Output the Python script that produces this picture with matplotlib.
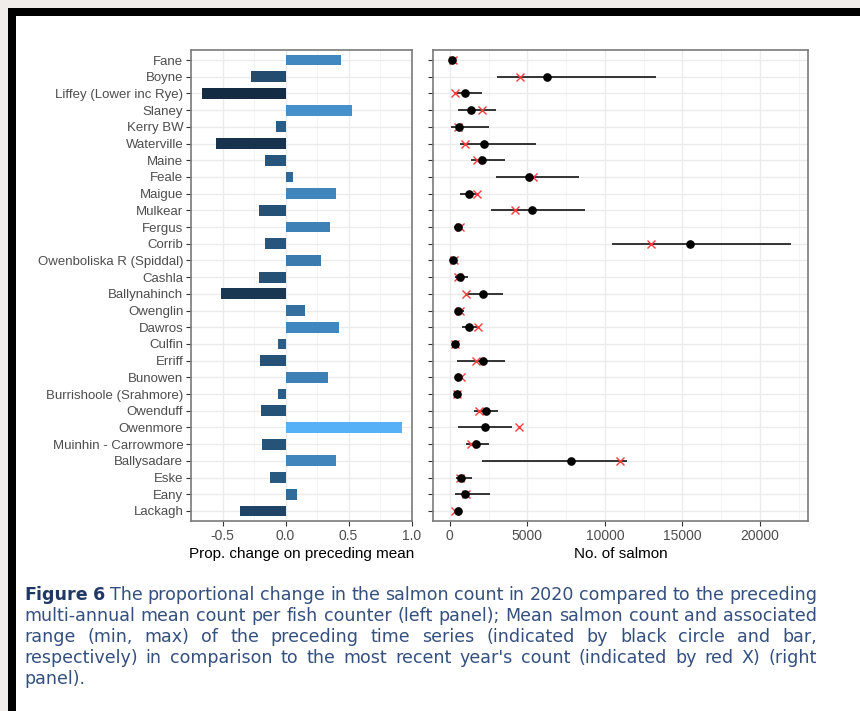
#!/usr/bin/env python3
"""
Salmon counter summary, 2020 vs preceding years
Left: proportional change on preceding mean, right: mean/range vs latest count
"""

import matplotlib
matplotlib.use('Agg')
import matplotlib.pyplot as plt
import matplotlib.patches as patches
from matplotlib.colors import LinearSegmentedColormap, Normalize

W, H = 860, 711

# Fish counters, top to bottom
rivers = [
    'Fane', 'Boyne', 'Liffey (Lower inc Rye)', 'Slaney', 'Kerry BW', 'Waterville',
    'Maine', 'Feale', 'Maigue', 'Mulkear', 'Fergus', 'Corrib',
    'Owenboliska R (Spiddal)', 'Cashla', 'Ballynahinch', 'Owenglin', 'Dawros',
    'Culfin', 'Erriff', 'Bunowen', 'Burrishoole (Srahmore)', 'Owenduff',
    'Owenmore', 'Muinhin - Carrowmore', 'Ballysadare', 'Eske', 'Eany', 'Lackagh',
]

# Proportional change on preceding mean (left panel)
prop_change = [
    0.44, -0.276, -0.66, 0.529, -0.079, -0.555,
    -0.163, 0.058, 0.40, -0.21, 0.35, -0.163,
    0.282, -0.213, -0.515, 0.155, 0.424,
    -0.063, -0.202, 0.337, -0.06, -0.192,
    0.924, -0.184, 0.40, -0.121, 0.092, -0.363,
]

# Preceding series: mean, min, max (right panel)
mean_count = [
    150, 6300, 1010, 1355, 600, 2215,
    2065, 5100, 1250, 5290, 510, 15500,
    215, 690, 2130, 560, 1270,
    365, 2130, 560, 495, 2365,
    2300, 1720, 7805, 730, 990, 515,
]
min_count = [
    20, 3050, 250, 560, 110, 645,
    1400, 3010, 670, 2670, 300, 10430,
    120, 320, 1050, 390, 820,
    250, 470, 400, 380, 1550,
    540, 1030, 2090, 430, 345, 300,
]
max_count = [
    260, 13330, 2100, 3010, 2540, 5550,
    3570, 8340, 1900, 8750, 800, 22000,
    330, 1200, 3440, 900, 1850,
    480, 3590, 800, 620, 3080,
    4020, 2560, 11400, 1440, 2580, 720,
]
# Most recent year (2020)
recent_count = [
    215, 4560, 340, 2075, 555, 985,
    1730, 5400, 1750, 4180, 690, 12950,
    275, 545, 1030, 645, 1810,
    340, 1700, 750, 465, 1910,
    4450, 1400, 10950, 640, 1080, 330,
]

left_ticks = [-0.5, 0.0, 0.5, 1.0]
left_minor = [-0.75, -0.25, 0.25, 0.75]
right_ticks = [0, 5000, 10000, 15000, 20000]
right_minor = [2500, 7500, 12500, 17500, 22500]

caption_lines = [
    [('Figure', True), ('6', True)] + [(w, False) for w in
        'The proportional change in the salmon count in 2020 compared to the preceding'.split()],
    [(w, False) for w in
        'multi-annual mean count per fish counter (left panel); Mean salmon count and associated'.split()],
    [(w, False) for w in
        'range (min, max) of the preceding time series (indicated by black circle and bar,'.split()],
    [(w, False) for w in
        "respectively) in comparison to the most recent year's count (indicated by red X) (right".split()],
    [(w, False) for w in 'panel).'.split()],
]

GRID = '#EBEBEB'
BORDER = '#7a7a7a'
TICK_TXT = '#4D4D4D'
CAP_BODY = '#34507f'
CAP_BOLD = '#1F3864'


def px_box(x0, y0, x1, y1):
    """pixel box (top-left origin) -> figure fraction [l, b, w, h]"""
    return [x0 / W, 1 - y1 / H, (x1 - x0) / W, (y1 - y0) / H]


def expand(lo, hi, mult=0.05):
    d = (hi - lo) * mult
    return lo - d, hi + d


def style_axes(ax):
    ax.set_facecolor('white')
    for s in ax.spines.values():
        s.set_color(BORDER)
        s.set_linewidth(1.2)
    ax.set_axisbelow(True)
    ax.grid(which='major', color=GRID, linewidth=1.0)
    ax.grid(which='minor', axis='x', color='#F2F2F2', linewidth=0.6)
    ax.tick_params(which='major', length=3.5, width=0.8, color='#333333',
                   labelcolor=TICK_TXT, pad=2)
    ax.tick_params(which='minor', length=0)


fig = plt.figure(figsize=(W / 100, H / 100), dpi=100, facecolor='#f1edeb')

# page frame: black border on top/left, white page
fig.patches.append(patches.Rectangle((8 / W, 0), 1, 1 - 8 / H, transform=fig.transFigure,
                                     facecolor='black', edgecolor='none', zorder=-10))
fig.patches.append(patches.Rectangle((16 / W, 0), 1, 1 - 16 / H, transform=fig.transFigure,
                                     facecolor='white', edgecolor='none', zorder=-9))

n = len(rivers)
ypos = [n - i for i in range(n)]

# ---- left panel ----
ax1 = fig.add_axes(px_box(191, 50, 412, 521))
style_axes(ax1)
cmap = LinearSegmentedColormap.from_list('gg', ['#132B43', '#56B1F7'])
norm = Normalize(min(prop_change), max(prop_change))
ax1.barh(ypos, prop_change, height=0.65, color=[cmap(norm(v)) for v in prop_change],
         edgecolor='none', zorder=2)
ax1.set_xlim(*expand(min(prop_change + [0]), max(prop_change + [0])))
ax1.set_ylim(0.4, n + 0.6)
ax1.set_xticks(left_ticks)
ax1.set_xticks(left_minor, minor=True)
ax1.set_xticklabels(['-0.5', '0.0', '0.5', '1.0'], fontsize=10, family='Liberation Sans')
ax1.set_yticks(ypos)
ax1.set_yticklabels(rivers, fontsize=9.5, family='Liberation Sans')
ax1.set_xlabel('Prop. change on preceding mean', fontsize=11, family='Liberation Sans',
               color='black', labelpad=3)

# ---- right panel ----
ax2 = fig.add_axes(px_box(433, 50, 808, 521))
style_axes(ax2)
ax2.hlines(ypos, min_count, max_count, color='black', linewidth=1.1, zorder=3)
ax2.plot(recent_count, ypos, linestyle='none', marker='x', color='#ff3b3b',
         markersize=5.5, markeredgewidth=1.0, zorder=4)
ax2.plot(mean_count, ypos, linestyle='none', marker='o', color='black',
         markersize=5.2, zorder=5)
all_vals = min_count + max_count + mean_count + recent_count
ax2.set_xlim(*expand(min(all_vals), max(all_vals)))
ax2.set_ylim(0.4, n + 0.6)
ax2.set_xticks(right_ticks)
ax2.set_xticks(right_minor, minor=True)
ax2.set_xticklabels([str(t) for t in right_ticks], fontsize=10, family='Liberation Sans')
ax2.set_yticks(ypos)
ax2.set_yticklabels([])
ax2.set_xlabel('No. of salmon', fontsize=11, family='Liberation Sans',
               color='black', labelpad=3)

# ---- justified caption ----
renderer = fig.canvas.get_renderer()
cap_left, cap_right = 24, 817
baselines = [600, 621, 642, 663, 684]
for line_no, (words, base) in enumerate(zip(caption_lines, baselines)):
    texts = []
    for word, bold in words:
        t = fig.text(0, 1 - base / H, word, fontsize=12.6, family='DejaVu Sans',
                     fontweight='bold' if bold else 'normal',
                     color=CAP_BOLD if bold else CAP_BODY, va='baseline', ha='left')
        texts.append(t)
    widths = [t.get_window_extent(renderer).width for t in texts]
    last = line_no == len(caption_lines) - 1
    if last or len(texts) == 1:
        gap = 5
    else:
        gap = (cap_right - cap_left - sum(widths)) / (len(texts) - 1)
    x = cap_left
    for t, wd in zip(texts, widths):
        t.set_x(x / W)
        x += wd + gap

fig.savefig('out.png', dpi=100, facecolor=fig.get_facecolor())
plt.close(fig)
